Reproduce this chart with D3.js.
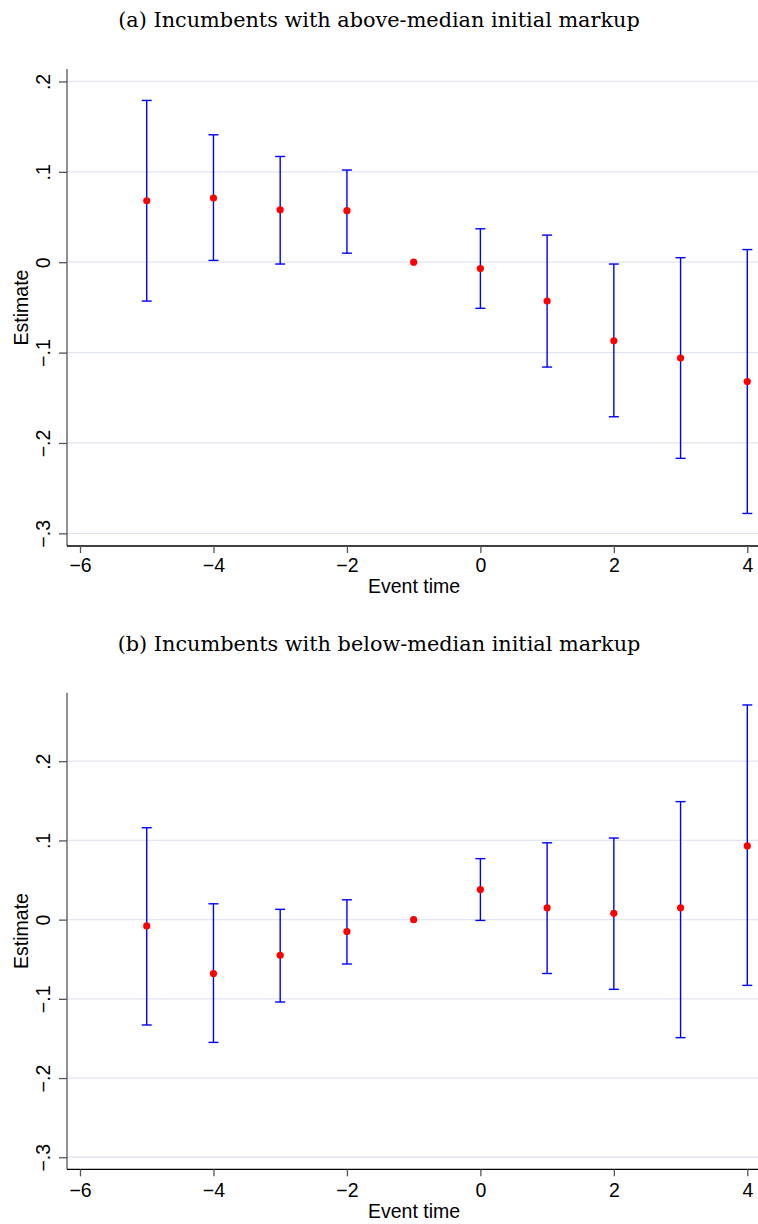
<!DOCTYPE html>
<html><head><meta charset="utf-8">
<script src="https://cdn.jsdelivr.net/npm/d3@7"></script>
<style>body{margin:0;background:#fff}svg{display:block}</style>
</head><body>
<script>
const eventTimes = [-5,-4,-3,-2,-1,0,1,2,3,4];
const estA = [0.068,0.071,0.058,0.057,0,-0.007,-0.043,-0.087,-0.106,-0.132];
const loA  = [-0.043,0.002,-0.002,0.010,null,-0.051,-0.116,-0.171,-0.217,-0.278];
const hiA  = [0.179,0.141,0.117,0.102,null,0.037,0.030,-0.002,0.005,0.014];
const estB = [-0.008,-0.068,-0.045,-0.015,0,0.038,0.015,0.008,0.015,0.093];
const loB  = [-0.133,-0.155,-0.104,-0.056,null,-0.001,-0.068,-0.088,-0.149,-0.083];
const hiB  = [0.116,0.020,0.013,0.025,null,0.077,0.097,0.103,0.149,0.271];
const xTicks = [-6,-4,-2,0,2,4];
const yTicks = [-0.3,-0.2,-0.1,0,0.1,0.2];
const yTickLabels = ["\u2212.3","\u2212.2","\u2212.1","0",".1",".2"];
const titles = ["(a) Incumbents with above-median initial markup","(b) Incumbents with below-median initial markup"];

const W=758,H=1224;
const svg=d3.select("body").append("svg").attr("width",W).attr("height",H);
const sans="'Liberation Sans', Arial, Helvetica, sans-serif";
const fs=19.5;

function panel(cfg){
  const {top,bottom,yDomain,est,lo,hi,title,titleY,xLabY,xTitleY}=cfg;
  const left=67,right=758;
  const x=d3.scaleLinear().domain([-6,4]).range([80,747.3]);
  const y=d3.scaleLinear().domain(yDomain).range([bottom,top]);
  const g=svg.append("g");
  g.append("text").attr("x",W/2).attr("y",titleY).attr("text-anchor","middle")
    .attr("font-family","'DejaVu Serif', 'Liberation Serif', serif").attr("font-size",20.8).attr("fill","#000").text(title);
  g.selectAll(".grid").data(yTicks).join("line")
    .attr("x1",left).attr("x2",right).attr("y1",d=>y(d)).attr("y2",d=>y(d))
    .attr("stroke","#e1e6f0").attr("stroke-width",1.3);
  const ya=g.append("g").attr("transform",`translate(${left},0)`)
    .call(d3.axisLeft(y).tickValues(yTicks).tickSize(8).tickFormat((d,i)=>yTickLabels[i]));
  ya.select(".domain").attr("d",`M0,${top}V${bottom}`).attr("stroke","#555").attr("stroke-width",1.3);
  ya.selectAll(".tick line").attr("stroke","#555").attr("stroke-width",1.3);
  ya.selectAll(".tick text").attr("font-family",sans).attr("font-size",fs).attr("fill","#000")
    .attr("transform","rotate(-90)").attr("text-anchor","middle").attr("x",0).attr("y",-17).attr("dy","0");
  const xa=g.append("g").attr("transform",`translate(0,${bottom})`)
    .call(d3.axisBottom(x).tickValues(xTicks).tickSize(7).tickFormat(d=>d<0?"\u2212"+Math.abs(d):String(d)));
  xa.select(".domain").attr("d",`M${left},0H${right}`).attr("stroke","#000").attr("stroke-width",1.3);
  xa.selectAll(".tick line").attr("stroke","#555").attr("stroke-width",1.3);
  xa.selectAll(".tick text").attr("font-family",sans).attr("font-size",fs).attr("fill","#000")
    .attr("y",xLabY-bottom).attr("dy","0");
  g.append("text").attr("x",414).attr("y",xTitleY).attr("text-anchor","middle")
    .attr("font-family",sans).attr("font-size",fs).text("Event time");
  g.append("text").attr("transform",`translate(28,${(top+bottom)/2}) rotate(-90)`).attr("text-anchor","middle")
    .attr("font-family",sans).attr("font-size",fs).text("Estimate");
  const idx=d3.range(eventTimes.length).filter(i=>lo[i]!==null);
  const eb=g.append("g").attr("stroke","#0000ff").attr("stroke-width",1.4).attr("fill","none");
  eb.selectAll(".v").data(idx).join("line").attr("x1",i=>x(eventTimes[i])).attr("x2",i=>x(eventTimes[i]))
    .attr("y1",i=>y(lo[i])).attr("y2",i=>y(hi[i]));
  eb.selectAll(".ch").data(idx).join("line").attr("x1",i=>x(eventTimes[i])-5).attr("x2",i=>x(eventTimes[i])+5)
    .attr("y1",i=>y(hi[i])).attr("y2",i=>y(hi[i]));
  eb.selectAll(".cl").data(idx).join("line").attr("x1",i=>x(eventTimes[i])-5).attr("x2",i=>x(eventTimes[i])+5)
    .attr("y1",i=>y(lo[i])).attr("y2",i=>y(lo[i]));
  g.selectAll(".pt").data(d3.range(eventTimes.length)).join("circle")
    .attr("cx",i=>x(eventTimes[i])).attr("cy",i=>y(est[i])).attr("r",3.6).attr("fill","#ff0000");
}

panel({top:69,bottom:546,yDomain:[-0.314,0.2138],est:estA,lo:loA,hi:hiA,title:titles[0],titleY:27,xLabY:572,xTitleY:593});
panel({top:692.7,bottom:1169.3,yDomain:[-0.3152,0.2865],est:estB,lo:loB,hi:hiB,title:titles[1],titleY:651,xLabY:1197,xTitleY:1218});
</script>
</body></html>
